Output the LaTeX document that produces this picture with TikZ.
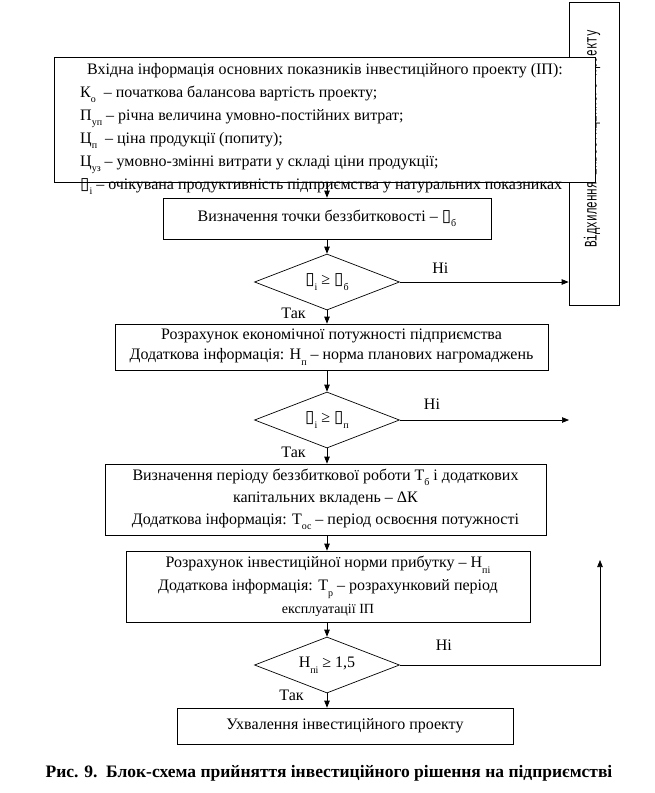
\documentclass[tikz,border=0pt]{standalone}
\usepackage{fontspec}
\setmainfont{Liberation Serif}
\newfontfamily\monofont{Liberation Mono}
\newfontfamily\symfont{DejaVu Sans}
\usepackage{graphicx}
\usetikzlibrary{positioning, arrows.meta, shapes.geometric}
\newcommand{\lsub}[1]{\raisebox{-5.5pt}{\fontsize{10}{10}\selectfont #1}}
\newcommand{\qbox}{{\symfont\fontsize{17}{17}\selectfont ▯}}
\tikzset{
    every node/.style={
        font=\fontsize{16}{20}\selectfont
    },
    block/.style={
        draw=black,
        fill=white,
        align=center,
        inner sep=0pt,
        line width=0.7pt
    },
    check/.style={
        diamond,
        draw=black,
        aspect=2.6,
        inner sep=0pt,
        minimum width=145pt,
        minimum height=56pt,
        line width=0.7pt
    },
    lbl/.style={
        inner sep=1pt
    },
    flow/.style={
        -{Triangle[length=7pt,width=5.5pt]},
        line width=0.7pt
    }
}

\begin{document}
\begin{tikzpicture}[x=1pt, y=-1pt]
            \useasboundingbox (0,0) rectangle (654,793);

            % Rejection box (lies under the input box)
            \node (reject) [
                block,
                minimum width=50pt,
                minimum height=303pt,
            ] at (594,153.5) {};
            \node (rejecttext) [
                rotate=90,
                anchor=west,
                inner sep=0pt,
                font=\monofont\fontsize{11}{11}\selectfont,
            ] at (592,248) {\scalebox{1}[1.6]{Відхилення інвестиційного проекту}};

            % Input data
            \node (info) [
                block,
                minimum width=541pt,
                minimum height=125pt,
            ] at (324.5,120) {};
            \node (infotext) [
                anchor=north west,
                align=left,
                inner sep=0pt,
                font=\fontsize{16}{23}\selectfont,
            ] at (80,63) {\hspace{7pt}Вхідна інформація основних показників інвестиційного проекту (ІП):\\
                К\lsub{о} \ – початкова балансова вартість проекту;\\
                П\lsub{уп} – річна величина умовно-постійних витрат;\\
                Ц\lsub{п} \ – ціна продукції (попиту);\\
                Ц\lsub{уз} – умовно-змінні витрати у складі ціни продукції;\\
                \qbox\lsub{і} – очікувана продуктивність підприємства у натуральних показниках};

            % Steps
            \node (bep) [
                block,
                minimum width=328pt,
                minimum height=41pt,
            ] at (327,218.5) {Визначення точки беззбитковості – \qbox\lsub{б}};
            \node (check1) [check] at (327,282) {\qbox\lsub{і} ≥ \qbox\lsub{б}};
            \node (econ) [
                block,
                minimum width=433pt,
                minimum height=46pt,
            ] at (331.5,347) {Розрахунок економічної потужності підприємства\\
                Додаткова інформація: Н\lsub{п} – норма планових нагромаджень};
            \node (check2) [check] at (327,420) {\qbox\lsub{і} ≥ \qbox\lsub{п}};
            \node (period) [
                block,
                minimum width=441pt,
                minimum height=71pt,
                font=\fontsize{16}{22}\selectfont,
            ] at (325.5,499.5) {Визначення періоду беззбиткової роботи Т\lsub{б} і додаткових\\
                капітальних вкладень – ΔК\\
                Додаткова інформація: Т\lsub{ос} – період освоєння потужності};
            \node (rate) [
                block,
                minimum width=404pt,
                minimum height=71pt,
                font=\fontsize{16}{23}\selectfont,
            ] at (328,586.5) {Розрахунок інвестиційної норми прибутку – Н\lsub{пі}\\
                Додаткова інформація: Т\lsub{р} – розрахунковий період\\
                {\fontsize{14}{14}\selectfont експлуатації ІП}};
            \node (check3) [check] at (327,665) {Н\lsub{пі} ≥ 1,5};
            \node (accept) [
                block,
                minimum width=336pt,
                minimum height=36pt,
            ] at (345,726) {Ухвалення інвестиційного проекту};

            \coordinate (nofree) at (569,420);
            \coordinate (back) at (600,560);

            % Caption
            \node (caption) [
                font=\bfseries\fontsize{17.5}{17.5}\selectfont,
            ] at (329,773) {Рис. 9.\ \ Блок-схема прийняття інвестиційного рішення на підприємстві};

            % Edges
            \path [flow]
                (info.south -| bep.north) edge (bep.north)
                (bep) edge (check1)
                (check1) edge node [lbl, pos=0.24, above=7pt] {Ні} (check1 -| reject.west)
                (check1) edge node [lbl, pos=0.23, left=20pt] {Так} (check1 |- econ.north)
                (econ.south -| check2.north) edge (check2)
                (check2) edge node [lbl, pos=0.19, above=9pt] {Ні} (nofree)
                (check2) edge node [lbl, pos=0.25, left=20pt] {Так} (check2 |- period.north)
                (period.south -| check2.south) edge (check2 |- rate.north)
                (rate.south -| check3.north) edge (check3)
                (check3) edge [to path={-| (\tikztotarget) \tikztonodes}] node [lbl, pos=0.11, above=13pt] {Ні} (back)
                (check3) edge node [lbl, pos=0.13, left=22pt] {Так} (check3 |- accept.north)
            ;
\end{tikzpicture}
\end{document}
